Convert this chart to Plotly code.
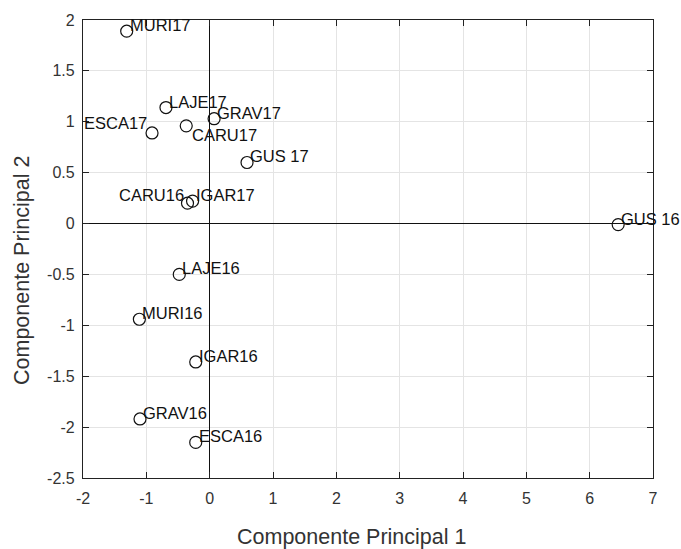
import plotly.graph_objects as go

labels = ["MURI17", "LAJE17", "ESCA17", "CARU17", "GRAV17", "GUS 17", "CARU16", "IGAR17",
          "GUS 16", "LAJE16", "MURI16", "IGAR16", "GRAV16", "ESCA16"]
pc1 = [-1.31, -0.69, -0.91, -0.37, 0.07, 0.59, -0.35, -0.27,
       6.45, -0.48, -1.11, -0.22, -1.10, -0.22]
pc2 = [1.89, 1.14, 0.89, 0.96, 1.03, 0.60, 0.20, 0.22,
       -0.01, -0.50, -0.94, -1.36, -1.92, -2.15]

x_ticks = [-2, -1, 0, 1, 2, 3, 4, 5, 6, 7]
y_ticks = [-2.5, -2, -1.5, -1, -0.5, 0, 0.5, 1, 1.5, 2]

# label placement style: (xanchor, xshift, yshift)
placement = {
    "ESCA17": ("right", -3, 10),
    "CARU16": ("right", -2, 8),
    "CARU17": ("left", 4, -9),
}
default_place = ("left", 1, 6)

font_fam = "Arial, Liberation Sans, sans-serif"

fig = go.Figure()
fig.add_trace(go.Scatter(
    x=pc1, y=pc2, mode="markers",
    marker=dict(symbol="circle-open", size=12, color="#111111", line=dict(width=1.2)),
    showlegend=False, hoverinfo="skip",
))

for lab, xv, yv in zip(labels, pc1, pc2):
    xa, xs, ys = placement.get(lab, default_place)
    fig.add_annotation(x=xv, y=yv, text=lab, showarrow=False,
                       xanchor=xa, yanchor="middle", xshift=xs, yshift=ys,
                       font=dict(family=font_fam, size=16.5, color="#111111"))

axis_common = dict(
    showgrid=True, gridcolor="#e4e4e4", gridwidth=1,
    zeroline=True, zerolinecolor="#111111", zerolinewidth=1.3,
    showline=True, linecolor="#222222", linewidth=1.2, mirror="ticks",
    ticks="inside", ticklen=6, tickcolor="#222222",
    tickfont=dict(family=font_fam, size=16, color="#333333"),
)

fig.update_xaxes(range=[-2, 7], tickvals=x_ticks, ticktext=[str(v) for v in x_ticks],
                 ticklabelstandoff=6, **axis_common)
fig.update_yaxes(range=[-2.5, 2], tickvals=y_ticks,
                 ticktext=[("%g" % v) for v in y_ticks], ticklabelstandoff=4,
                 **axis_common)

title_font = dict(family=font_fam, size=21.5, color="#333333")
fig.add_annotation(text="Componente Principal 1", xref="paper", yref="paper",
                   x=0.5, y=0, xanchor="center", yanchor="middle",
                   xshift=-17, yshift=-59, showarrow=False, font=title_font)
fig.add_annotation(text="Componente Principal 2", xref="paper", yref="paper",
                   x=0, y=0.5, xanchor="center", yanchor="middle", textangle=-90,
                   xshift=-61, yshift=-22, showarrow=False, font=title_font)

fig.update_layout(
    width=681, height=549,
    margin=dict(l=83, r=28, t=20, b=71),
    plot_bgcolor="white", paper_bgcolor="white",
)

fig.write_html("out.html", config={"displayModeBar": False},
               post_script="document.body.style.margin='0';")
